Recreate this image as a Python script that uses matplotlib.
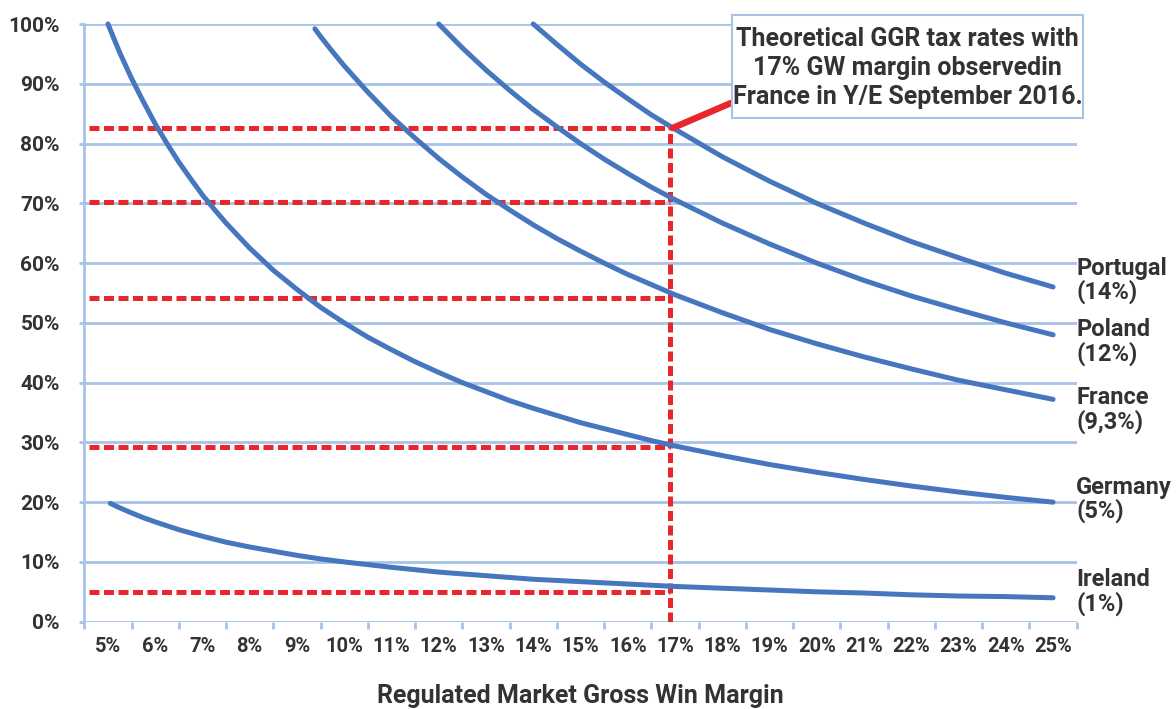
import matplotlib
matplotlib.use('Agg')
import matplotlib.pyplot as plt
from matplotlib.patches import Rectangle
from matplotlib.transforms import blended_transform_factory

plt.rcParams['font.family'] = ['Roboto', 'DejaVu Sans']

# tax rate on GGR needed at each gross win margin (%)
ireland_x = [5.05, 5.25, 5.5, 5.75, 6, 6.5, 7, 7.5, 8, 8.5, 9, 9.5, 10, 11, 12, 13, 14, 15, 16, 17, 18, 19, 20, 21, 22, 23, 24, 25]
ireland_y = [19.8, 19.05, 18.2, 17.4, 16.7, 15.4, 14.3, 13.3, 12.5, 11.8, 11.1, 10.5, 10, 9.1, 8.3, 7.7, 7.1, 6.7, 6.3, 5.9, 5.6, 5.3, 5.0, 4.8, 4.5, 4.3, 4.2, 4.0]

germany_x = [5, 5.25, 5.5, 5.75, 6, 6.25, 6.5, 6.75, 7, 7.25, 7.5, 8, 8.5, 9, 9.5, 10, 10.5, 11, 11.5, 12, 12.5, 13, 13.5, 14, 14.5,
             15, 15.5, 16, 16.5, 17, 18, 19, 20, 21, 22, 23, 24, 25]
germany_y = [100, 95.2, 90.9, 87.0, 83.3, 80.0, 76.9, 74.1, 71.4, 69.0, 66.7, 62.5, 58.8, 55.6, 52.6, 50, 47.6, 45.5, 43.5, 41.7, 40, 38.5, 37.0, 35.7, 34.5,
             33.3, 32.3, 31.3, 30.3, 29.4, 27.8, 26.3, 25, 23.8, 22.7, 21.7, 20.8, 20]

france_x = [9.38, 9.5, 9.75, 10, 10.5, 11, 11.5, 12, 12.5, 13, 13.5, 14, 14.5, 15, 15.5, 16, 16.5, 17, 18, 19, 20, 21, 22, 23, 24, 25]
france_y = [99.2, 97.9, 95.4, 93, 88.6, 84.5, 80.9, 77.5, 74.4, 71.5, 68.9, 66.4, 64.1, 62, 60, 58.1, 56.4, 54.7, 51.7, 48.9, 46.5, 44.3, 42.3, 40.4, 38.8, 37.2]

poland_x = [12, 12.5, 13, 13.5, 14, 14.5, 15, 15.5, 16, 16.5, 17, 18, 19, 20, 21, 22, 23, 24, 25]
poland_y = [100, 96, 92.3, 88.9, 85.7, 82.8, 80, 77.4, 75, 72.7, 70.6, 66.7, 63.2, 60, 57.1, 54.5, 52.2, 50, 48]

portugal_x = [14, 14.5, 15, 15.5, 16, 16.5, 17, 18, 19, 20, 21, 22, 23, 24, 25]
portugal_y = [100, 96.6, 93.3, 90.3, 87.5, 84.8, 82.4, 77.8, 73.7, 70, 66.7, 63.6, 60.9, 58.3, 56]

curve_labels = ['Ireland\n(1%)', 'Germany\n(5%)', 'France\n(9,3%)', 'Poland\n(12%)', 'Portugal\n(14%)']
label_y = [5.0, 20.4, 35.4, 46.8, 57.1]

margins = list(range(5, 26))
margin_labels = [f'{m}%' for m in margins]
ref_margin = 16.9
ref_rates = [82.6, 70.2, 54.2, 29.3, 5.0]

note = 'Theoretical GGR tax rates with\n17% GW margin observedin\nFrance in Y/E September 2016.'

blue = '#4676be'
red = '#e8262c'
grid_c = '#a7c3e7'
text_c = '#333333'

fig = plt.figure(figsize=(11.76, 7.09), dpi=100)
ax = fig.add_axes([84.3 / 1176, 1 - 621.7 / 709, 992.4 / 1176, 597.7 / 709])

ax.set_xlim(4.5, 25.5)
ax.set_ylim(0, 100)

# grid
for v in range(0, 101, 10):
    ax.axhline(v, color=grid_c, lw=2, zorder=1)

# red reference lines
for r in ref_rates:
    ax.plot([4.6, ref_margin], [r, r], color=red, lw=3.6, ls=(0, (2.0, 0.9)), zorder=2)
ax.plot([ref_margin, ref_margin], [0, ref_rates[0]], color=red, lw=3.6, ls=(0, (2.0, 0.9)), zorder=2)

series = [(ireland_x, ireland_y), (germany_x, germany_y), (france_x, france_y),
          (poland_x, poland_y), (portugal_x, portugal_y)]
for sx, sy in series:
    ax.plot(sx, sy, color=blue, lw=3.6, solid_capstyle='round', solid_joinstyle='round',
            clip_on=False, zorder=3)

trans = blended_transform_factory(ax.transAxes, ax.transData)
for lab, ly in zip(curve_labels, label_y):
    ax.text(0.9995, ly, lab, transform=trans, ha='left', va='center', fontsize=17,
            color=text_c, linespacing=1.0, fontweight='bold')

# axes styling
for s in ['top', 'right', 'bottom']:
    ax.spines[s].set_visible(False)
ax.spines['left'].set_color(grid_c)
ax.spines['left'].set_linewidth(2)

ax.set_yticks(range(0, 101, 10))
ax.set_yticklabels([f'{v}%' for v in range(0, 101, 10)])
ax.tick_params(axis='y', length=3.6, width=2, color=grid_c, pad=14, labelsize=15, labelcolor=text_c)

ax.set_xticks([m - 0.5 for m in margins] + [25.5])
ax.set_xticklabels([])
ax.set_xticks(margins, minor=True)
ax.set_xticklabels(margin_labels, minor=True)
ax.tick_params(axis='x', which='major', length=5, width=2, color=grid_c)
ax.tick_params(axis='x', which='minor', length=0, pad=11, labelsize=14.5, labelcolor=text_c)
for t in ax.get_yticklabels() + ax.get_xticklabels(minor=True):
    t.set_fontweight('bold')

fig.text(580 / 1176, 1 - 703 / 709, 'Regulated Market Gross Win Margin', ha='center', va='baseline',
         fontsize=18, color=text_c, fontweight='bold')

# annotation box
box = Rectangle((732.3 / 1176, 1 - 118.3 / 709), 350.4 / 1176, 103.3 / 709, transform=fig.transFigure,
                facecolor='white', edgecolor=grid_c, lw=1.5, zorder=5)
fig.patches.append(box)
fig.text(907.5 / 1176, 1 - 68 / 709, note, ha='center', va='center', multialignment='center',
         fontsize=18, color=text_c, linespacing=1.25, fontweight='bold', zorder=6)

ax.annotate('', xy=(ref_margin + 0.05, ref_rates[0]), xycoords='data',
            xytext=(731 / 1176, 1 - 103 / 709), textcoords='figure fraction',
            arrowprops=dict(arrowstyle='-', color=red, lw=4.7, shrinkA=0, shrinkB=0), zorder=4)

fig.savefig('out.png', dpi=100)
